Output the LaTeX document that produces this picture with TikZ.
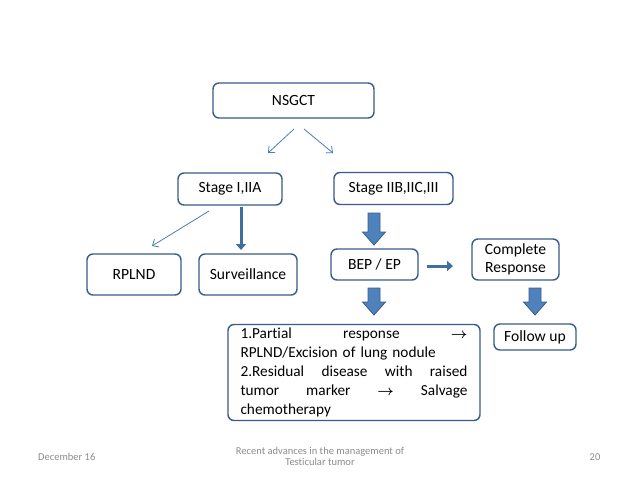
\documentclass[tikz,border=0pt]{standalone}
\usepackage{fontspec}
\setmainfont{Carlito}[Ligatures=NoCommon]
\usetikzlibrary{arrows.meta}
\definecolor{boxline}{HTML}{385D8A}
\definecolor{blkfill}{HTML}{4F81BD}
\definecolor{thinline}{HTML}{4A7EBB}
\definecolor{darkarr}{HTML}{3F6E9F}
\definecolor{foot}{HTML}{8C8C8C}
\newcommand{\rarr}{{\fontsize{15}{15}\selectfont\boldmath$\rightarrow$}}
\newcommand{\blkarrow}[3]{%
  \draw[blkarrowstyle] (#1-6,#2) -- (#1+6,#2) -- (#1+6,#3-13) -- (#1+11.5,#3-13)
    -- (#1,#3) -- (#1-11.5,#3-13) -- (#1-6,#3-13) -- cycle;}
\tikzset{
  box/.style={draw=boxline, line width=1.4pt, rounded corners=6pt, fill=white,
    inner sep=0pt, align=center, font=\fontsize{15.6}{18.6}\selectfont},
  thinarrow/.style={draw=thinline, line width=0.8pt, -{Straight Barb[length=5pt,width=9pt]}},
  darkarrow/.style={draw=darkarr, line width=3pt, -{Triangle[length=6pt,width=10pt]}},
  blkarrowstyle/.style={fill=blkfill, draw=boxline, line width=0.8pt, line join=miter},
  footer/.style={text=foot, font=\fontsize{10.5}{11.5}\selectfont, inner sep=0pt, align=center}
}
\begin{document}
\begin{tikzpicture}[x=1pt,y=-1pt]
\useasboundingbox[fill=white] (0,0) rectangle (638,479);
% boxes
\node[box, minimum width=161pt, minimum height=35pt] (nsgct) at (293.5,100.5) {NSGCT};
\node[box, minimum width=104pt, minimum height=32pt] (st1) at (230,189) {Stage I,IIA};
\node[box, minimum width=119pt, minimum height=32pt] (st2) at (393.5,188.5) {Stage IIB,IIC,III};
\node[box, minimum width=94pt, minimum height=41pt] (rplnd) at (134,274.5) {RPLND};
\node[box, minimum width=98pt, minimum height=41pt] (surv) at (248,274.5) {Surveillance};
\node[box, minimum width=87pt, minimum height=31pt] (bep) at (374.5,264.5) {BEP / EP};
\node[box, minimum width=87pt, minimum height=41pt] (cr) at (515.5,259.5) {Complete\\Response};
\node[box, minimum width=82pt, minimum height=26pt] (fu) at (535,337) {Follow up};
\node[box, minimum width=252pt, minimum height=96pt, align=left, text width=227pt,
  font=\fontsize{15.3}{19}\selectfont] (res) at (354,372.5) {%
1.Partial\hfill response\hfill \rarr\\
RPLND/Excision of lung nodule\\
2.Residual\hfill disease\hfill with\hfill raised\\
tumor\hfill marker\hfill \rarr\hfill Salvage\\
chemotherapy};
% thin arrows
\coordinate (a1s) at (294,129); \coordinate (a1e) at (268,153);
\coordinate (a2s) at (304,129); \coordinate (a2e) at (333,153);
\coordinate (a3s) at (209,211); \coordinate (a3e) at (152,246);
\draw[thinarrow] (a1s) -- (a1e);
\draw[thinarrow] (a2s) -- (a2e);
\draw[thinarrow] (a3s) -- (a3e);
% dark arrows
\coordinate (d1s) at (241,207); \coordinate (d1e) at (241,250);
\draw[darkarrow] (d1s) -- (d1e);
\coordinate (d2s) at (427,266); \coordinate (d2e) at (453,266);
\draw[darkarrow] (d2s) -- (d2e);
% block arrows
\blkarrow{374}{213}{245}
\blkarrow{374}{288}{315}
\blkarrow{535}{288}{315}
% footer
\node[footer, anchor=west] (date) at (38,457) {December 16};
\node[footer] (title) at (320,456.5) {Recent advances in the management of\\Testicular tumor};
\node[footer] (page) at (595,457) {20};
\end{tikzpicture}
\end{document}
